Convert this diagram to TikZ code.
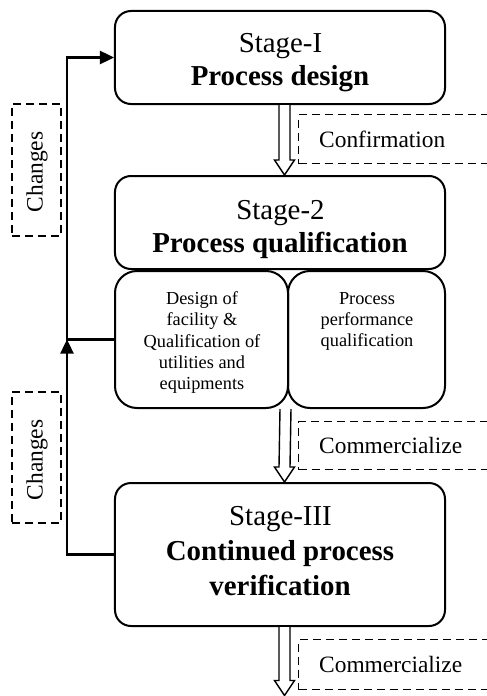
\documentclass[tikz,border=0pt]{standalone}
\usepackage{fontspec}
\setmainfont{Liberation Serif}
\usetikzlibrary{arrows.meta,calc}

\tikzset{
  stagebox/.style={draw, line width=2bp, rounded corners=16bp, inner sep=0pt},
  subbox/.style={draw, line width=2bp, rounded corners=22bp, inner sep=0pt},
  dashbox/.style={draw, line width=1.4bp, dash pattern=on 8bp off 5bp, inner sep=0pt},
  bigtxt/.style={font=\fontsize{29}{34}\selectfont, inner sep=0pt, anchor=base},
  lbltxt/.style={font=\fontsize{23.5}{28}\selectfont, inner sep=0pt},
  smalltxt/.style={font=\fontsize{18.4}{21.3}\selectfont, align=center, inner sep=0pt, anchor=north},
  conn/.style={line width=2.4bp},
  tip/.style={-{Triangle[length=14bp,width=13bp]}},
  blockarr/.style={draw, line width=1.4bp, fill=white, line join=miter}
}

% hollow block arrow from point #1 down to point #2 (tip)
\newcommand{\blockdown}[2]{%
  \draw[blockarr]
    ($(#1)+(-5.5,0)$) -- ($(#2)+(-5.5,-15)$) -- ($(#2)+(-10,-15)$) -- (#2)
    -- ($(#2)+(10,-15)$) -- ($(#2)+(5.5,-15)$) -- ($(#1)+(5.5,0)$);}

\begin{document}
\begin{tikzpicture}[x=1bp,y=-1bp]
\useasboundingbox (0,0) rectangle (487,696);
\clip (0,0) rectangle (487,696);

% stage boxes
\node[stagebox, minimum width=330bp, minimum height=93bp] (s1) at (280,57.5) {};
\node[stagebox, minimum width=330bp, minimum height=93bp] (s2) at (280,222.5) {};
\node[subbox, minimum width=173bp, minimum height=137bp] (subL) at (201.5,339.5) {};
\node[subbox, minimum width=157bp, minimum height=137bp] (subR) at (366.5,339.5) {};
\node[stagebox, minimum width=330bp, minimum height=143bp] (s3) at (280,554.5) {};

% stage texts
\node[bigtxt] (s1a) at (280.5,53) {Stage-I};
\node[bigtxt] (s1b) at (280,86) {\bfseries Process design};
\node[bigtxt] (s2a) at (280.5,219) {Stage-2};
\node[bigtxt] (s2b) at (280,252) {\bfseries Process qualification};
\node[smalltxt] (subLt) at (202,291.5) {Design of\\facility \&\\Qualification of\\utilities and\\equipments};
\node[smalltxt] (subRt) at (367,291.8) {Process\\performance\\qualification};
\node[bigtxt] (s3a) at (280.5,525) {Stage-III};
\node[bigtxt] (s3b) at (280,560) {\bfseries Continued process};
\node[bigtxt] (s3c) at (280,595) {\bfseries verification};

% block arrows between stages
\coordinate (a1s) at ($(s1.south)+(4.5,0)$);
\coordinate (a1e) at ($(s2.north)+(4.5,0)$);
\coordinate (a2s) at ($(subL.south east)+(-3.5,0)$);
\coordinate (a2e) at ($(s3.north)+(4.5,0)$);
\coordinate (a3s) at ($(s3.south)+(4.5,0)$);
\coordinate (a3e) at (284.5,695.5);
\blockdown{a1s}{a1e}
\blockdown{a2s}{a2e}
\blockdown{a3s}{a3e}

% dashed labels
\node[dashbox, minimum width=220bp, minimum height=49bp, anchor=north west] (conf) at (298,114) {};
\node[lbltxt, anchor=base west] (conft) at (319,147.5) {Confirmation};
\node[dashbox, minimum width=220bp, minimum height=48bp, anchor=north west] (com1) at (298,421) {};
\node[lbltxt, anchor=base west] (com1t) at (319,453) {Commercialize};
\node[dashbox, minimum width=220bp, minimum height=50bp, anchor=north west] (com2) at (298,639) {};
\node[lbltxt, anchor=base west] (com2t) at (319,672) {Commercialize};

\node[dashbox, minimum width=49bp, minimum height=132bp] (ch1) at (36.5,170) {};
\node[lbltxt, rotate=90] (ch1t) at (37,172) {Changes};
\node[dashbox, minimum width=49bp, minimum height=131bp] (ch2) at (36.5,457.5) {};
\node[lbltxt, rotate=90] (ch2t) at (37,460) {Changes};

% feedback lines
\coordinate (lx) at (67,0);
\draw[conn, tip] (subL.west) -- (subL.west -| lx) |- (s1.west);
\draw[conn, tip] (s3.west) -| (subL.west -| lx);
\end{tikzpicture}
\end{document}
